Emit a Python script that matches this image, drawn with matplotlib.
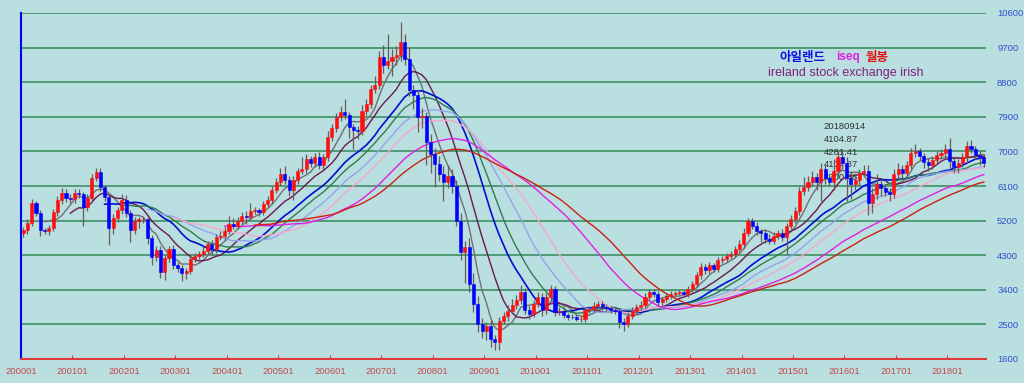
import matplotlib
matplotlib.use('Agg')
import matplotlib.pyplot as plt
import numpy as np
import pandas as pd

W, H = 1024, 383
BG = '#badfe0'

# monthly closes 2000-01 .. 2018-09
closes = [
    4950, 5150, 5650, 5400, 4950, 4930, 5020, 5430, 5735, 5920, 5800, 5750,  # 2000
    5930, 5890, 5560, 5800, 6310, 6460, 6075, 5815, 5010, 5260, 5475, 5740,  # 2001
    5400, 4950, 5200, 5230, 5240, 4750, 4250, 4430, 3860, 4230, 4450, 4050,  # 2002
    3970, 3840, 3900, 4200, 4290, 4330, 4420, 4590, 4460, 4770, 4800, 4940,  # 2003
    5115, 5070, 5185, 5330, 5300, 5460, 5480, 5430, 5640, 5730, 5990, 6200,  # 2004
    6420, 6250, 5990, 6250, 6500, 6550, 6790, 6690, 6860, 6640, 6860, 7380,  # 2005
    7600, 7900, 8030, 7950, 7640, 7550, 7530, 8050, 8240, 8630, 8720, 9460,  # 2006
    9240, 9360, 9460, 9500, 9850, 9410, 8590, 8460, 7900, 7930, 7240, 6940,  # 2007
    6680, 6420, 6200, 6350, 6110, 5200, 4380, 4510, 3550, 3030, 2510, 2340,  # 2008
    2470, 2120, 2030, 2600, 2730, 2860, 3000, 3125, 3340, 2870, 2780, 3040,  # 2009
    3210, 2870, 3210, 3430, 2820, 2860, 2740, 2700, 2690, 2650, 2650, 2880,  # 2010
    2890, 2990, 3040, 2950, 2930, 2880, 2860, 2560, 2520, 2730, 2860, 2950,  # 2011
    3000, 3210, 3340, 3300, 3080, 3160, 3230, 3300, 3320, 3330, 3300, 3430,  # 2012
    3560, 3780, 3995, 3910, 4040, 3950, 4170, 4200, 4290, 4330, 4460, 4600,  # 2013
    4890, 5195, 5070, 4930, 4890, 4720, 4680, 4810, 4890, 4770, 5070, 5240,  # 2014
    5450, 5970, 6080, 6200, 6330, 6200, 6550, 6300, 6200, 6500, 6850, 6700,  # 2015
    6300, 6150, 6250, 6450, 6500, 5650, 5900, 6150, 6050, 5950, 5900, 6400,  # 2016
    6550, 6450, 6650, 6950, 7000, 6870, 6730, 6650, 6780, 6900, 6960, 7050,  # 2017
    6750, 6600, 6700, 6850, 7150, 7050, 6900, 6850, 6700,                    # 2018
]
first_open = 4870

# wick length above / below the candle body
upper_wick = [
    80, 100, 120, 60, 80, 60, 60, 80, 100, 120, 100, 80,
    80, 80, 60, 80, 100, 120, 120, 60, 60, 100, 80, 150,
    120, 80, 100, 60, 60, 60, 80, 100, 120, 100, 80, 120,
    80, 80, 80, 120, 80, 80, 120, 80, 100, 80, 120, 100,
    200, 150, 120, 100, 120, 200, 80, 60, 80, 120, 100, 120,
    150, 200, 100, 120, 80, 300, 150, 100, 100, 120, 80, 150,
    120, 100, 150, 340, 80, 80, 120, 150, 120, 100, 250, 150,
    300, 700, 200, 250, 520, 200, 300, 150, 150, 200, 100, 200,
    150, 200, 200, 300, 200, 150, 200, 170, 250, 300, 200, 150,
    100, 150, 100, 100, 100, 150, 150, 150, 180, 100, 100, 100,
    120, 100, 100, 100, 80, 80, 80, 60, 60, 60, 60, 80,
    80, 80, 80, 60, 80, 60, 60, 60, 100, 100, 80, 80,
    100, 100, 80, 80, 80, 60, 60, 60, 60, 60, 60, 80,
    60, 80, 100, 80, 80, 60, 80, 80, 60, 80, 80, 100,
    120, 60, 80, 100, 60, 100, 120, 100, 60, 80, 80, 100,
    100, 100, 250, 150, 150, 120, 150, 100, 120, 300, 150, 200,
    150, 200, 150, 100, 150, 150, 150, 250, 120, 100, 100, 150,
    150, 100, 100, 150, 200, 100, 100, 100, 100, 120, 100, 150,
    300, 100, 100, 100, 120, 150, 100, 100, 80,
]
lower_wick = [
    100, 100, 80, 80, 150, 80, 100, 80, 100, 100, 120, 80,
    100, 100, 500, 100, 80, 80, 100, 100, 450, 150, 100, 100,
    100, 300, 100, 200, 100, 150, 200, 100, 150, 200, 100, 100,
    100, 200, 150, 100, 80, 100, 80, 100, 150, 100, 80, 100,
    100, 100, 80, 80, 200, 80, 80, 100, 80, 80, 100, 80,
    100, 100, 150, 250, 100, 100, 100, 100, 100, 100, 100, 100,
    100, 100, 100, 100, 300, 500, 200, 100, 100, 100, 100, 100,
    200, 100, 400, 200, 150, 150, 150, 350, 400, 300, 600, 500,
    600, 200, 500, 150, 200, 150, 200, 800, 200, 200, 200, 200,
    250, 200, 200, 200, 100, 150, 100, 100, 100, 100, 150, 100,
    100, 150, 100, 100, 100, 80, 80, 80, 60, 60, 80, 80,
    80, 80, 80, 80, 80, 80, 80, 150, 200, 100, 80, 80,
    80, 80, 80, 80, 100, 80, 80, 60, 60, 60, 60, 80,
    80, 80, 100, 100, 80, 80, 80, 80, 80, 80, 80, 80,
    100, 100, 80, 100, 250, 100, 100, 100, 100, 100, 450, 100,
    100, 100, 100, 100, 100, 200, 500, 150, 100, 200, 200, 150,
    600, 400, 150, 150, 100, 300, 250, 150, 200, 100, 200, 100,
    150, 150, 100, 100, 100, 100, 150, 150, 100, 100, 100, 100,
    200, 150, 150, 100, 150, 100, 100, 200, 100,
]

ma_periods = [6, 12, 20, 24, 30, 36, 48, 55]
ma_colors = ['#707070', '#6a1850', '#0010d0', '#2e7d4f',
             '#95a3ee', '#f4a8cc', '#e020e0', '#cc2010']

x_labels = ['200001', '200101', '200201', '200301', '200401', '200501',
            '200601', '200701', '200801', '200901', '201001', '201101',
            '201201', '201301', '201401', '201501', '201601', '201701',
            '201801']
y_ticks = [1600, 2500, 3400, 4300, 5200, 6100, 7000, 7900, 8800, 9700, 10600]

info_lines = ['20180914', '4104.87', '4281.41', '4104.87', '4200.46']

closes_a = np.array(closes, dtype=float)
opens_a = np.array([first_open] + closes[:-1], dtype=float)
highs = np.maximum(opens_a, closes_a) + np.array(upper_wick)
lows = np.minimum(opens_a, closes_a) - np.array(lower_wick)
xs = np.arange(len(closes)) + 0.5

fig = plt.figure(figsize=(W / 100, H / 100), dpi=100, facecolor=BG)
ax = fig.add_axes([21 / W, (H - 359) / H, (986 - 21) / W, (359 - 13) / H])
ax.set_facecolor(BG)
ax.set_xlim(0, 225)
ax.set_ylim(1600, 10600)

for yv in y_ticks:
    ax.axhline(yv, color='#3f8f64', lw=1.2, zorder=1)

# info text sits under the candles
for k, line in enumerate(info_lines):
    ax.text(187.2, 7640 - k * 330, line, fontsize=6.8, color='#303030',
            family='Liberation Sans', va='center', zorder=2)

s = pd.Series(closes_a)
for period, color in zip(ma_periods, ma_colors):
    ma = s.rolling(period).mean()
    ax.plot(xs, ma, color=color, lw=1.0 if period != 20 else 1.2, zorder=3)

up = closes_a >= opens_a
body_colors = np.where(up, '#ff1010', '#0000ff')
ax.vlines(xs, lows, highs, color='#6e5a5a', lw=0.9, zorder=4)
ax.bar(xs, np.abs(closes_a - opens_a), bottom=np.minimum(opens_a, closes_a),
       width=0.72, color=body_colors, edgecolor=body_colors, lw=0.4, zorder=5)

for side in ['top', 'right']:
    ax.spines[side].set_visible(False)
ax.spines['left'].set_color('#0000ff')
ax.spines['left'].set_linewidth(1.5)
ax.spines['bottom'].set_color('#e03838')
ax.spines['bottom'].set_linewidth(1.5)

ax.set_xticks(np.arange(len(x_labels)) * 12)
ax.set_xticklabels(x_labels, fontsize=6.8, color='#c84848', family='Liberation Sans')
ax.tick_params(axis='x', direction='in', length=3, color='#e03838', pad=6)
ax.yaxis.tick_right()
ax.set_yticks(y_ticks)
ax.set_yticklabels([str(v) for v in y_ticks], fontsize=6.8, color='#3050d0',
                   family='Liberation Sans')
ax.tick_params(axis='y', length=0, pad=8)

# title in three colours
fig.text(779 / W, 1 - 57 / H, '아일랜드', color='#1010e0', fontsize=9,
         fontweight='bold', family='Noto Sans CJK KR', va='center')
fig.text(836 / W, 1 - 57 / H, 'iseq', color='#e020e0', fontsize=8.5,
         fontweight='bold', family='Liberation Sans', va='center')
fig.text(866 / W, 1 - 57 / H, '월봉', color='#e01010', fontsize=9,
         fontweight='bold', family='Noto Sans CJK KR', va='center')
fig.text(846 / W, 1 - 73 / H, 'ireland stock exchange irish', color='#802080',
         fontsize=9, family='Liberation Sans', va='center', ha='center')

fig.savefig('out.png', dpi=100, facecolor=BG)
